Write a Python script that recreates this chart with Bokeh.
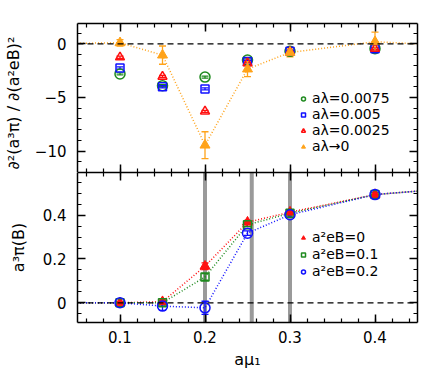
import numpy as np
from bokeh.plotting import figure
from bokeh.models import (ColumnDataSource, Whisker, TeeHead, Span, LinearAxis,
                          FixedTicker, Legend, LegendItem, Range1d,
                          CustomJSTickFormatter)
from bokeh.layouts import column
from bokeh.embed import file_html
from bokeh.resources import INLINE

# ---------------- data ----------------
mu = [0.1, 0.15, 0.2, 0.25, 0.3, 0.4]

# top panel: d2(a^3 pi)/d(a^2 eB)^2
d2_l0075 = [-2.8, -3.9, -3.1, -1.5, -0.7, -0.45]
d2_l0075_err = [0.1, 0.1, 0.1, 0.1, 0.1, 0.1]
d2_l005 = [-2.25, -4.0, -4.2, -1.65, -0.7, -0.45]
d2_l005_err = [0.1, 0.1, 0.1, 0.1, 0.1, 0.1]
d2_l0025 = [-1.25, -3.05, -6.3, -1.8, -0.75, -0.45]
d2_l0025_err = [0.1, 0.1, 0.1, 0.1, 0.1, 0.1]
d2_l0 = [0.1, -1.05, -9.45, -2.35, -0.8, 0.2]
d2_l0_err = [0.3, 0.85, 1.25, 0.7, 0.4, 0.9]
d2_l0_line_x = [0.0, 0.1, 0.15, 0.2, 0.25, 0.3, 0.4, 0.5]
d2_l0_line_y = [0.0, 0.1, -1.05, -9.45, -2.35, -0.8, 0.2, -0.2]

# bottom panel: a^3 pi(B)
pi_B0 = [0.0, 0.005, 0.167, 0.368, 0.414, 0.494]
pi_B0_err = [0.005, 0.008, 0.015, 0.008, 0.008, 0.01]
pi_B01 = [0.0, 0.0, 0.118, 0.356, 0.409, 0.494]
pi_B01_err = [0.005, 0.01, 0.015, 0.008, 0.008, 0.01]
pi_B02 = [0.0, -0.015, -0.023, 0.318, 0.402, 0.494]
pi_B02_err = [0.005, 0.02, 0.03, 0.01, 0.01, 0.01]
line_x = [0.0, 0.1, 0.15, 0.2, 0.25, 0.3, 0.4, 0.5]
pi_B0_line = [0.0, 0.0, 0.005, 0.167, 0.368, 0.414, 0.494, 0.526]
pi_B01_line = [0.0, 0.0, 0.0, 0.118, 0.356, 0.409, 0.494, 0.526]
pi_B02_line = [0.0, 0.0, -0.015, -0.023, 0.318, 0.402, 0.494, 0.526]

transitions = [0.2, 0.255, 0.3]

x_ticks = [0.1, 0.2, 0.3, 0.4]
top_ticks = [-10, -5, 0]
top_tick_labels = ["\u221210", "\u22125", "0"]
bot_ticks = [0, 0.2, 0.4]
bot_tick_labels = ["0", "0.2", "0.4"]

GREEN = "#1f8a1f"
BLUE = "#1010ff"
RED = "#ff1010"
ORANGE = "#ffa31a"
FONT = "DejaVu Sans"

x_minor = list(np.round(np.arange(0.06, 0.45, 0.02), 3))
top_minor = list(range(-11, 2))
bot_minor = list(np.round(np.arange(-0.05, 0.6, 0.05), 3))


def style_axis(ax, ticks, minor, labels=True, overrides=None):
    ax.ticker = FixedTicker(ticks=ticks, minor_ticks=minor)
    ax.major_tick_in = 8
    ax.major_tick_out = 0
    ax.minor_tick_in = 4
    ax.minor_tick_out = 0
    ax.axis_line_width = 1.5
    ax.major_tick_line_width = 1.5
    ax.minor_tick_line_width = 1.2
    ax.axis_line_color = "black"
    ax.major_tick_line_color = "black"
    ax.minor_tick_line_color = "black"
    ax.axis_label_text_font = FONT
    ax.axis_label_text_font_style = "normal"
    ax.axis_label_text_font_size = "16px"
    ax.axis_label_text_color = "black"
    ax.major_label_text_font = FONT
    ax.major_label_text_font_size = "15px"
    ax.major_label_text_color = "black"
    if overrides:
        ax.major_label_overrides = overrides
    if not labels:
        ax.formatter = CustomJSTickFormatter(code="return ''")
        ax.major_label_text_font_size = "1px"
        ax.major_label_standoff = 0
        ax.axis_label = None


def make_err(x, y, e):
    return ColumnDataSource(dict(x=x, y=y,
                                 upper=[a + b for a, b in zip(y, e)],
                                 lower=[a - b for a, b in zip(y, e)]))


def add_whisker(p, src, color, head=7):
    w = Whisker(base="x", upper="upper", lower="lower", source=src,
                dimension="height", line_color=color, line_width=1.3,
                upper_head=TeeHead(size=head, line_color=color, line_width=1.3),
                lower_head=TeeHead(size=head, line_color=color, line_width=1.3))
    p.add_layout(w)


def add_legend(p, label, renderer, vy, size):
    leg = Legend(items=[LegendItem(label=label, renderers=[renderer])],
                 location=(221, vy), glyph_width=10, glyph_height=13,
                 label_height=13, label_standoff=4, spacing=0, padding=0,
                 margin=0, border_line_color=None, background_fill_alpha=0,
                 label_text_font=FONT, label_text_font_size=size,
                 label_text_color="black")
    p.add_layout(leg)


# ---------------- top panel ----------------
top = figure(frame_width=340, frame_height=149,
             x_range=Range1d(0.05, 0.45), y_range=Range1d(-12, 1.9),
             output_backend="svg", toolbar_location=None,
             min_border_left=73, min_border_right=15, min_border_top=23,
             min_border_bottom=0)
top.xgrid.visible = False
top.ygrid.visible = False
top.outline_line_color = None

style_axis(top.xaxis[0], x_ticks, x_minor, labels=False)
style_axis(top.yaxis[0], top_ticks, top_minor,
           overrides={t: l for t, l in zip(top_ticks, top_tick_labels)})
top.yaxis[0].axis_label = "\u2202\u00b2(a\u00b3\u03c0)  /  \u2202(a\u00b2eB)\u00b2"
top.yaxis[0].major_label_standoff = 11
top.yaxis[0].axis_label_standoff = 9
ax_r = LinearAxis()
style_axis(ax_r, top_ticks, top_minor, labels=False)
top.add_layout(ax_r, "right")
ax_t = LinearAxis()
style_axis(ax_t, x_ticks, x_minor, labels=False)
top.add_layout(ax_t, "above")

top.add_layout(Span(location=0, dimension="width", line_color="black",
                    line_dash="6 4", line_width=1.3))

top.line(d2_l0_line_x, d2_l0_line_y, line_color=ORANGE, line_dash="1 2",
         line_width=1.5)

s_g = make_err(mu, d2_l0075, d2_l0075_err)
s_b = make_err(mu, d2_l005, d2_l005_err)
s_r = make_err(mu, d2_l0025, d2_l0025_err)
s_o = make_err(mu, d2_l0, d2_l0_err)
for s, c in [(s_g, GREEN), (s_b, BLUE), (s_r, RED), (s_o, ORANGE)]:
    add_whisker(top, s, c)

r_g = top.scatter("x", "y", source=s_g, marker="circle", size=10,
                  fill_color=None, line_color=GREEN, line_width=1.5)
r_b = top.scatter("x", "y", source=s_b, marker="square", size=8,
                  fill_color=None, line_color=BLUE, line_width=1.5)
r_r = top.scatter("x", "y", source=s_r, marker="triangle", size=9,
                  fill_color=None, line_color=RED, line_width=1.5)
r_o = top.scatter("x", "y", source=s_o, marker="triangle", size=10,
                  fill_color=ORANGE, line_color=ORANGE, line_width=1.0)

add_legend(top, "a\u03bb=0.0075", r_g, 66, "14px")
add_legend(top, "a\u03bb=0.005", r_b, 50, "14px")
add_legend(top, "a\u03bb=0.0025", r_r, 34, "14px")
add_legend(top, "a\u03bb\u21920", r_o, 18, "14px")

# ---------------- bottom panel ----------------
bot = figure(frame_width=340, frame_height=150,
             x_range=Range1d(0.05, 0.45), y_range=Range1d(-0.09, 0.595),
             output_backend="svg", toolbar_location=None,
             min_border_left=73, min_border_right=15, min_border_top=0,
             min_border_bottom=48)
bot.xgrid.visible = False
bot.ygrid.visible = False
bot.outline_line_color = None

style_axis(bot.xaxis[0], x_ticks, x_minor)
bot.xaxis[0].axis_label = "a\u03bc\u2081"
bot.xaxis[0].major_label_standoff = 8
bot.xaxis[0].axis_label_standoff = 4
style_axis(bot.yaxis[0], bot_ticks, bot_minor,
           overrides={t: l for t, l in zip(bot_ticks, bot_tick_labels)})
bot.yaxis[0].axis_label = "a\u00b3\u03c0(B)"
bot.yaxis[0].major_label_standoff = 11
bot.yaxis[0].axis_label_standoff = 12
ax_r2 = LinearAxis()
style_axis(ax_r2, bot_ticks, bot_minor, labels=False)
bot.add_layout(ax_r2, "right")
ax_t2 = LinearAxis()
style_axis(ax_t2, x_ticks, x_minor, labels=False)
bot.add_layout(ax_t2, "above")

for t in transitions:
    bot.add_layout(Span(location=t, dimension="height", line_color="#9a9a9a",
                        line_width=4, level="underlay"))
bot.add_layout(Span(location=0, dimension="width", line_color="black",
                    line_dash="6 4", line_width=1.3))

bot.line(line_x, pi_B0_line, line_color=RED, line_dash="1 2", line_width=1.5)
bot.line(line_x, pi_B01_line, line_color=GREEN, line_dash="1 2", line_width=1.5)
bot.line(line_x, pi_B02_line, line_color=BLUE, line_dash="1 2", line_width=1.5)

b_r = make_err(mu, pi_B0, pi_B0_err)
b_g = make_err(mu, pi_B01, pi_B01_err)
b_b = make_err(mu, pi_B02, pi_B02_err)
for s, c in [(b_r, RED), (b_g, GREEN), (b_b, BLUE)]:
    add_whisker(bot, s, c)

rb_r = bot.scatter("x", "y", source=b_r, marker="triangle", size=10,
                   fill_color=RED, line_color=RED, line_width=1.0)
rb_g = bot.scatter("x", "y", source=b_g, marker="square", size=8,
                   fill_color=None, line_color=GREEN, line_width=1.5)
rb_b = bot.scatter("x", "y", source=b_b, marker="circle", size=10,
                   fill_color=None, line_color=BLUE, line_width=1.5)

add_legend(bot, "a\u00b2eB=0", rb_r, 77, "14px")
add_legend(bot, "a\u00b2eB=0.1", rb_g, 60, "14px")
add_legend(bot, "a\u00b2eB=0.2", rb_b, 43, "14px")

layout = column(top, bot, spacing=0)
open("out.html", "w").write(file_html(layout, INLINE))
